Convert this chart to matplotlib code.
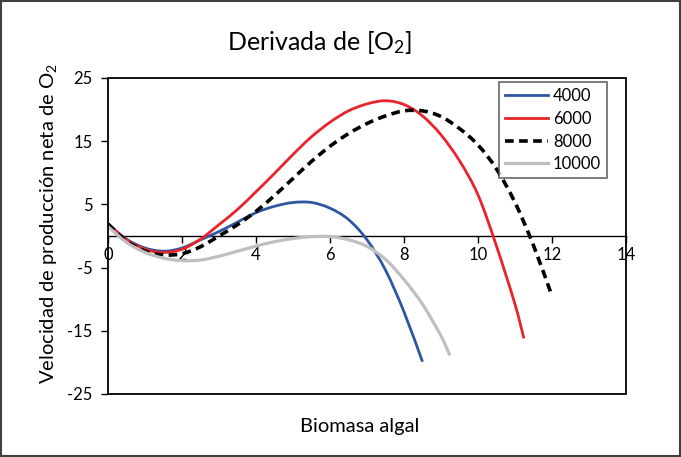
import matplotlib.pyplot as plt
from matplotlib.patches import Rectangle, PathPatch
from matplotlib.path import Path
from matplotlib.lines import Line2D

plt.rcParams['font.family'] = ['Lato', 'DejaVu Sans']
plt.rcParams['mathtext.fontset'] = 'custom'
plt.rcParams['mathtext.rm'] = 'Lato'
plt.rcParams['mathtext.it'] = 'Lato'
plt.rcParams['axes.unicode_minus'] = False

# Values
x_4000 = [0, 0.5, 1.0, 1.5, 2.0, 2.5, 3.0, 3.5, 4.0, 4.5, 5.0, 5.5, 6.0, 6.5, 7.0, 7.5, 8.0, 8.5]
y_4000 = [1.9, -0.5, -1.9, -2.4, -1.9, -0.6, 0.7, 2.2, 3.7, 4.7, 5.3, 5.3, 4.4, 2.6, -0.6, -5.4, -12.0, -19.9]

x_6000 = [0, 0.5, 1.0, 1.5, 2.0, 2.5, 3.0, 3.5, 4.0, 4.5, 5.0, 5.5, 6.0, 6.5, 7.0, 7.5,
          8.0, 8.5, 9.0, 9.5, 10.0, 10.5, 11.0, 11.24]
y_6000 = [1.9, -0.6, -2.1, -2.6, -2.1, -0.5, 1.8, 4.2, 7.0, 9.9, 12.9, 15.7, 18.0, 19.8, 20.9, 21.4,
          20.8, 19.0, 16.0, 11.9, 6.5, -1.6, -10.8, -16.2]

x_8000 = [0, 0.5, 1.0, 1.5, 2.0, 2.5, 3.0, 3.5, 4.0, 4.5, 5.0, 5.5, 6.0, 6.5, 7.0, 7.5,
          8.0, 8.5, 9.0, 9.5, 10.0, 10.5, 11.0, 11.5, 12.0]
y_8000 = [1.9, -0.8, -2.4, -3.0, -2.8, -1.7, 0.0, 1.8, 3.9, 6.4, 9.1, 11.8, 14.2, 16.2, 17.8, 19.0,
          19.8, 19.8, 18.9, 17.0, 14.4, 10.6, 5.3, -1.5, -9.5]

x_10000 = [0, 0.5, 1.0, 1.5, 2.0, 2.5, 3.0, 3.5, 4.0, 4.5, 5.0, 5.5, 6.0, 6.5, 7.0, 7.5, 8.0, 8.5, 9.0, 9.24]
y_10000 = [1.5, -1.0, -2.6, -3.5, -3.9, -3.8, -3.2, -2.4, -1.6, -0.9, -0.4, -0.1, -0.1, -0.6, -1.65, -3.7,
           -6.9, -10.8, -15.8, -18.9]

labels = ['4000', '6000', '8000', '10000']
xticks = [0, 2, 4, 6, 8, 10, 12, 14]
yticks = [25, 15, 5, -5, -15, -25]


def smooth_path(xs, ys):
    # Excel style "smoothed line": bezier segments through every point
    pts = list(zip(xs, ys))
    verts = [pts[0]]
    codes = [Path.MOVETO]
    n = len(pts)
    for i in range(n - 1):
        p0 = pts[max(i - 1, 0)]
        p1 = pts[i]
        p2 = pts[i + 1]
        p3 = pts[min(i + 2, n - 1)]
        c1 = (p1[0] + (p2[0] - p0[0]) / 6, p1[1] + (p2[1] - p0[1]) / 6)
        c2 = (p2[0] - (p3[0] - p1[0]) / 6, p2[1] - (p3[1] - p1[1]) / 6)
        verts += [c1, c2, p2]
        codes += [Path.CURVE4] * 3
    return Path(verts, codes)


fig = plt.figure(figsize=(6.81, 4.57), dpi=100)
ax = fig.add_axes([108 / 681, 1 - 394 / 457, 518 / 681, 316 / 457])

styles = [
    dict(color='#2F56A1', lw=2.0, ls='-'),
    dict(color='#E8232A', lw=2.0, ls='-'),
    dict(color='black', lw=2.6, ls=(0, (2.4, 1.5))),
    dict(color='#BFBFBF', lw=2.3, ls='-'),
]
series = [(x_4000, y_4000), (x_6000, y_6000), (x_8000, y_8000), (x_10000, y_10000)]
handles = []
for (xs, ys), st, lab in zip(series, styles, labels):
    ax.add_patch(PathPatch(smooth_path(xs, ys), fill=False, edgecolor=st['color'],
                           lw=st['lw'], ls=st['ls'], capstyle='butt', zorder=3))
    handles.append(Line2D([], [], label=lab, **st))

ax.set_xlim(0, 14)
ax.set_ylim(-25, 25)
ax.set_xticks(xticks)
ax.set_yticks(yticks)

# x axis crosses at y = 0, box drawn around the plot area
ax.spines['bottom'].set_position(('data', 0))
ax.spines['bottom'].set_linewidth(1.0)
for s in ['top', 'right', 'left']:
    ax.spines[s].set_visible(False)
ax.add_patch(Rectangle((0, 0), 1, 1, transform=ax.transAxes, fill=False,
                       edgecolor='black', lw=1.3, clip_on=False, zorder=5))
ax.tick_params(axis='x', direction='out', length=5, width=1, pad=3, labelsize=12)
ax.tick_params(axis='y', direction='out', length=5, width=1, pad=6, labelsize=12)

fig.text(320 / 681, 1 - 42 / 457, 'Derivada de [O$_2$]', fontsize=18, ha='center', va='center')
ax.set_xlabel('Biomasa algal', fontsize=14.5)
ax.xaxis.set_label_coords(0.485, -0.075)
ax.set_ylabel('Velocidad de producción neta de O$_2$', fontsize=14.5)
ax.yaxis.set_label_coords(-0.095, 0.54)

leg = ax.legend(handles=handles, loc='upper right', bbox_to_anchor=(0.963, 0.986), fontsize=12,
                frameon=True, fancybox=False, handlelength=2.6, handletextpad=0.3,
                borderpad=0.35, labelspacing=0.4, borderaxespad=0)
leg.get_frame().set_edgecolor('#404040')
leg.get_frame().set_linewidth(1.2)

fig.patches.append(Rectangle((0.001, 0.002), 0.997, 0.996, transform=fig.transFigure,
                             fill=False, edgecolor='#404040', lw=1.5))

fig.savefig('out.png', dpi=100)
